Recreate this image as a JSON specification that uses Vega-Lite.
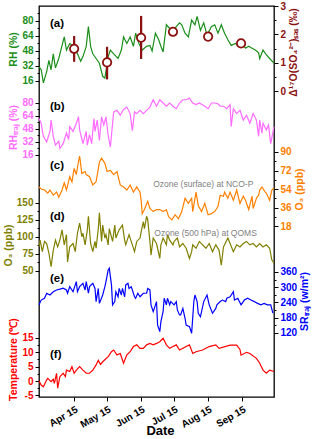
{
 "$schema": "https://vega.github.io/schema/vega-lite/v6.json",
 "width": 235, "height": 391,
 "autosize": "none",
 "padding": {"left": 39, "top": 6, "right": 46, "bottom": 42},
 "config": {
   "font": "Liberation Sans",
   "view": {"stroke": "black", "strokeWidth": 1.3},
   "axis": {"grid": false, "domain": false, "labelFont": "Liberation Sans", "labelFontWeight": "bold", "labelFontSize": 10, "titleFont": "Liberation Sans", "titleFontWeight": "bold", "titleFontSize": 10.5, "tickColor": "black", "tickWidth": 1, "tickSize": 4, "labelPadding": 2, "titlePadding": 3}
 },
 "resolve": {"scale": {"y": "independent"}, "axis": {"y": "independent"}},
 "datasets": {
  "rh": [
   {"t":"2018-03-14","v":31},{"t":"2018-03-16","v":28},{"t":"2018-03-18","v":14},{"t":"2018-03-21","v":26},{"t":"2018-03-23","v":38},{"t":"2018-03-25","v":28},{"t":"2018-03-27","v":45},{"t":"2018-03-29","v":30},{"t":"2018-04-01","v":40},{"t":"2018-04-04","v":54},{"t":"2018-04-06","v":63},{"t":"2018-04-08","v":49},{"t":"2018-04-11","v":56},{"t":"2018-04-15","v":53},{"t":"2018-04-18","v":45},{"t":"2018-04-21","v":37},{"t":"2018-04-23","v":42},{"t":"2018-04-26","v":53},{"t":"2018-04-28","v":74},{"t":"2018-04-30","v":53},{"t":"2018-05-02","v":45},{"t":"2018-05-05","v":40},{"t":"2018-05-08","v":35},{"t":"2018-05-11","v":21},{"t":"2018-05-13","v":19},{"t":"2018-05-16","v":42},{"t":"2018-05-18","v":49},{"t":"2018-05-21","v":45},{"t":"2018-05-25","v":40},{"t":"2018-05-28","v":49},{"t":"2018-05-30","v":63},{"t":"2018-06-02","v":56},{"t":"2018-06-05","v":63},{"t":"2018-06-08","v":53},{"t":"2018-06-10","v":67},{"t":"2018-06-13","v":56},{"t":"2018-06-16","v":49},{"t":"2018-06-20","v":53},{"t":"2018-06-23","v":54},{"t":"2018-06-25","v":48},{"t":"2018-06-28","v":67},{"t":"2018-07-01","v":60},{"t":"2018-07-03","v":53},{"t":"2018-07-05","v":47},{"t":"2018-07-08","v":76},{"t":"2018-07-11","v":72},{"t":"2018-07-14","v":69},{"t":"2018-07-17","v":74},{"t":"2018-07-20","v":78},{"t":"2018-07-22","v":76},{"t":"2018-07-25","v":67},{"t":"2018-07-28","v":63},{"t":"2018-07-31","v":81},{"t":"2018-08-03","v":76},{"t":"2018-08-05","v":85},{"t":"2018-08-08","v":70},{"t":"2018-08-11","v":78},{"t":"2018-08-14","v":65},{"t":"2018-08-18","v":74},{"t":"2018-08-21","v":76},{"t":"2018-08-24","v":67},{"t":"2018-08-27","v":76},{"t":"2018-08-30","v":67},{"t":"2018-09-02","v":60},{"t":"2018-09-05","v":54},{"t":"2018-09-09","v":56},{"t":"2018-09-12","v":53},{"t":"2018-09-15","v":56},{"t":"2018-09-18","v":51},{"t":"2018-09-21","v":53},{"t":"2018-09-24","v":51},{"t":"2018-09-27","v":49},{"t":"2018-09-30","v":46},{"t":"2018-10-01","v":40},{"t":"2018-10-04","v":49},{"t":"2018-10-07","v":44},{"t":"2018-10-10","v":40},{"t":"2018-10-14","v":35}
  ],
  "d17o": [
   {"t":"2018-04-15","v":1.49,"lo":1.03,"hi":1.94},
   {"t":"2018-05-15","v":1.01,"lo":0.41,"hi":1.56},
   {"t":"2018-06-15","v":1.88,"lo":1.13,"hi":2.65},
   {"t":"2018-07-14","v":2.09,"lo":2.09,"hi":2.09},
   {"t":"2018-08-15","v":1.92,"lo":1.92,"hi":1.92},
   {"t":"2018-09-14","v":1.68,"lo":1.68,"hi":1.68}
  ],
  "rht": [
   {"t":"2018-03-14","v":61},{"t":"2018-03-16","v":55},{"t":"2018-03-18","v":39},{"t":"2018-03-21","v":32},{"t":"2018-03-24","v":45},{"t":"2018-03-25","v":59},{"t":"2018-03-27","v":39},{"t":"2018-03-29","v":28},{"t":"2018-04-01","v":33},{"t":"2018-04-02","v":24},{"t":"2018-04-05","v":30},{"t":"2018-04-08","v":43},{"t":"2018-04-10","v":35},{"t":"2018-04-11","v":51},{"t":"2018-04-14","v":45},{"t":"2018-04-17","v":55},{"t":"2018-04-19","v":63},{"t":"2018-04-20","v":47},{"t":"2018-04-23","v":30},{"t":"2018-04-26","v":45},{"t":"2018-04-27","v":28},{"t":"2018-04-29","v":41},{"t":"2018-05-01","v":30},{"t":"2018-05-03","v":61},{"t":"2018-05-04","v":45},{"t":"2018-05-06","v":59},{"t":"2018-05-08","v":34},{"t":"2018-05-10","v":63},{"t":"2018-05-12","v":53},{"t":"2018-05-14","v":63},{"t":"2018-05-16","v":40},{"t":"2018-05-18","v":26},{"t":"2018-05-21","v":69},{"t":"2018-05-24","v":71},{"t":"2018-05-27","v":65},{"t":"2018-05-30","v":72},{"t":"2018-06-02","v":75},{"t":"2018-06-05","v":67},{"t":"2018-06-07","v":46},{"t":"2018-06-09","v":69},{"t":"2018-06-11","v":67},{"t":"2018-06-14","v":71},{"t":"2018-06-17","v":67},{"t":"2018-06-20","v":71},{"t":"2018-06-23","v":75},{"t":"2018-06-26","v":84},{"t":"2018-06-29","v":76},{"t":"2018-07-02","v":84},{"t":"2018-07-05","v":80},{"t":"2018-07-08","v":76},{"t":"2018-07-11","v":80},{"t":"2018-07-14","v":76},{"t":"2018-07-17","v":73},{"t":"2018-07-20","v":80},{"t":"2018-07-23","v":84},{"t":"2018-07-26","v":84},{"t":"2018-07-29","v":86},{"t":"2018-08-01","v":80},{"t":"2018-08-04","v":78},{"t":"2018-08-07","v":80},{"t":"2018-08-12","v":76},{"t":"2018-08-15","v":73},{"t":"2018-08-18","v":80},{"t":"2018-08-21","v":80},{"t":"2018-08-24","v":79},{"t":"2018-08-26","v":76},{"t":"2018-08-29","v":76},{"t":"2018-09-01","v":73},{"t":"2018-09-04","v":78},{"t":"2018-09-05","v":51},{"t":"2018-09-07","v":73},{"t":"2018-09-10","v":67},{"t":"2018-09-13","v":71},{"t":"2018-09-16","v":59},{"t":"2018-09-19","v":65},{"t":"2018-09-22","v":55},{"t":"2018-09-25","v":67},{"t":"2018-09-28","v":59},{"t":"2018-09-30","v":39},{"t":"2018-10-01","v":59},{"t":"2018-10-03","v":43},{"t":"2018-10-04","v":55},{"t":"2018-10-07","v":47},{"t":"2018-10-09","v":53},{"t":"2018-10-11","v":30},{"t":"2018-10-14","v":51}
  ],
  "o3s": [
   {"t":"2018-03-14","v":56},{"t":"2018-03-16","v":54},{"t":"2018-03-19","v":53},{"t":"2018-03-22","v":50},{"t":"2018-03-24","v":53},{"t":"2018-03-27","v":48},{"t":"2018-03-30","v":51},{"t":"2018-04-01","v":46},{"t":"2018-04-04","v":53},{"t":"2018-04-06","v":60},{"t":"2018-04-08","v":53},{"t":"2018-04-11","v":66},{"t":"2018-04-13","v":61},{"t":"2018-04-15","v":74},{"t":"2018-04-17","v":68},{"t":"2018-04-19","v":81},{"t":"2018-04-20","v":86},{"t":"2018-04-22","v":69},{"t":"2018-04-25","v":71},{"t":"2018-04-26","v":68},{"t":"2018-04-29","v":66},{"t":"2018-05-02","v":58},{"t":"2018-05-05","v":61},{"t":"2018-05-08","v":80},{"t":"2018-05-10","v":84},{"t":"2018-05-13","v":79},{"t":"2018-05-15","v":71},{"t":"2018-05-18","v":72},{"t":"2018-05-21","v":68},{"t":"2018-05-24","v":71},{"t":"2018-05-27","v":58},{"t":"2018-05-30","v":56},{"t":"2018-06-02","v":53},{"t":"2018-06-05","v":58},{"t":"2018-06-08","v":51},{"t":"2018-06-11","v":56},{"t":"2018-06-14","v":51},{"t":"2018-06-15","v":43},{"t":"2018-06-16","v":30},{"t":"2018-06-18","v":34},{"t":"2018-06-21","v":42},{"t":"2018-06-23","v":35},{"t":"2018-06-26","v":32},{"t":"2018-06-29","v":34},{"t":"2018-07-02","v":34},{"t":"2018-07-05","v":32},{"t":"2018-07-08","v":34},{"t":"2018-07-10","v":27},{"t":"2018-07-13","v":24},{"t":"2018-07-16","v":29},{"t":"2018-07-19","v":25},{"t":"2018-07-22","v":32},{"t":"2018-07-25","v":45},{"t":"2018-07-28","v":40},{"t":"2018-07-31","v":45},{"t":"2018-08-01","v":32},{"t":"2018-08-04","v":51},{"t":"2018-08-06","v":38},{"t":"2018-08-09","v":32},{"t":"2018-08-12","v":40},{"t":"2018-08-15","v":29},{"t":"2018-08-18","v":30},{"t":"2018-08-21","v":32},{"t":"2018-08-24","v":37},{"t":"2018-08-26","v":48},{"t":"2018-08-29","v":47},{"t":"2018-08-30","v":51},{"t":"2018-09-02","v":45},{"t":"2018-09-04","v":51},{"t":"2018-09-07","v":43},{"t":"2018-09-10","v":53},{"t":"2018-09-13","v":40},{"t":"2018-09-16","v":47},{"t":"2018-09-18","v":43},{"t":"2018-09-21","v":34},{"t":"2018-09-24","v":47},{"t":"2018-09-25","v":35},{"t":"2018-09-28","v":45},{"t":"2018-09-30","v":48},{"t":"2018-10-01","v":53},{"t":"2018-10-03","v":56},{"t":"2018-10-06","v":51},{"t":"2018-10-07","v":50},{"t":"2018-10-10","v":43},{"t":"2018-10-12","v":53},{"t":"2018-10-14","v":55}
  ],
  "o3m": [
   {"t":"2018-03-14","v":85},{"t":"2018-03-15","v":95},{"t":"2018-03-17","v":78},{"t":"2018-03-19","v":93},{"t":"2018-03-21","v":90},{"t":"2018-03-23","v":76},{"t":"2018-03-25","v":56},{"t":"2018-03-27","v":80},{"t":"2018-03-29","v":95},{"t":"2018-03-31","v":85},{"t":"2018-04-02","v":95},{"t":"2018-04-04","v":110},{"t":"2018-04-06","v":88},{"t":"2018-04-08","v":103},{"t":"2018-04-09","v":63},{"t":"2018-04-11","v":85},{"t":"2018-04-14","v":90},{"t":"2018-04-16","v":78},{"t":"2018-04-18","v":105},{"t":"2018-04-20","v":120},{"t":"2018-04-22","v":100},{"t":"2018-04-23","v":105},{"t":"2018-04-25","v":88},{"t":"2018-04-27","v":110},{"t":"2018-04-28","v":130},{"t":"2018-04-30","v":90},{"t":"2018-05-02","v":78},{"t":"2018-05-04","v":93},{"t":"2018-05-05","v":83},{"t":"2018-05-07","v":112},{"t":"2018-05-08","v":135},{"t":"2018-05-10","v":93},{"t":"2018-05-11","v":117},{"t":"2018-05-13","v":98},{"t":"2018-05-14","v":103},{"t":"2018-05-16","v":88},{"t":"2018-05-17","v":112},{"t":"2018-05-20","v":93},{"t":"2018-05-22","v":117},{"t":"2018-05-23","v":98},{"t":"2018-05-26","v":110},{"t":"2018-05-29","v":117},{"t":"2018-05-31","v":95},{"t":"2018-06-01","v":88},{"t":"2018-06-04","v":103},{"t":"2018-06-07","v":88},{"t":"2018-06-09","v":78},{"t":"2018-06-11","v":93},{"t":"2018-06-14","v":98},{"t":"2018-06-15","v":107},{"t":"2018-06-17","v":122},{"t":"2018-06-18","v":112},{"t":"2018-06-20","v":130},{"t":"2018-06-21","v":125},{"t":"2018-06-23","v":93},{"t":"2018-06-24","v":73},{"t":"2018-06-26","v":98},{"t":"2018-06-29","v":90},{"t":"2018-06-30","v":83},{"t":"2018-07-02","v":68},{"t":"2018-07-03","v":88},{"t":"2018-07-05","v":98},{"t":"2018-07-08","v":88},{"t":"2018-07-09","v":103},{"t":"2018-07-11","v":95},{"t":"2018-07-14","v":88},{"t":"2018-07-15","v":93},{"t":"2018-07-18","v":98},{"t":"2018-07-20","v":85},{"t":"2018-07-23","v":90},{"t":"2018-07-26","v":83},{"t":"2018-07-29","v":68},{"t":"2018-07-31","v":78},{"t":"2018-08-01","v":88},{"t":"2018-08-04","v":83},{"t":"2018-08-07","v":93},{"t":"2018-08-10","v":88},{"t":"2018-08-13","v":83},{"t":"2018-08-16","v":90},{"t":"2018-08-19","v":78},{"t":"2018-08-22","v":88},{"t":"2018-08-25","v":80},{"t":"2018-08-27","v":58},{"t":"2018-08-29","v":85},{"t":"2018-09-02","v":98},{"t":"2018-09-04","v":90},{"t":"2018-09-07","v":78},{"t":"2018-09-10","v":88},{"t":"2018-09-13","v":85},{"t":"2018-09-16","v":90},{"t":"2018-09-19","v":93},{"t":"2018-09-22","v":88},{"t":"2018-09-25","v":90},{"t":"2018-09-28","v":85},{"t":"2018-10-01","v":90},{"t":"2018-10-04","v":85},{"t":"2018-10-07","v":88},{"t":"2018-10-10","v":83},{"t":"2018-10-12","v":66},{"t":"2018-10-14","v":61}
  ],
  "sr": [
   {"t":"2018-03-14","v":230},{"t":"2018-03-16","v":249},{"t":"2018-03-19","v":256},{"t":"2018-03-21","v":276},{"t":"2018-03-24","v":269},{"t":"2018-03-27","v":282},{"t":"2018-03-30","v":289},{"t":"2018-04-02","v":292},{"t":"2018-04-05","v":296},{"t":"2018-04-08","v":289},{"t":"2018-04-09","v":276},{"t":"2018-04-11","v":302},{"t":"2018-04-14","v":282},{"t":"2018-04-17","v":322},{"t":"2018-04-18","v":282},{"t":"2018-04-20","v":302},{"t":"2018-04-23","v":315},{"t":"2018-04-25","v":289},{"t":"2018-04-26","v":322},{"t":"2018-04-28","v":276},{"t":"2018-04-29","v":302},{"t":"2018-05-02","v":315},{"t":"2018-05-04","v":295},{"t":"2018-05-05","v":243},{"t":"2018-05-07","v":295},{"t":"2018-05-08","v":236},{"t":"2018-05-11","v":269},{"t":"2018-05-13","v":302},{"t":"2018-05-14","v":322},{"t":"2018-05-16","v":368},{"t":"2018-05-17","v":375},{"t":"2018-05-19","v":309},{"t":"2018-05-20","v":230},{"t":"2018-05-22","v":243},{"t":"2018-05-23","v":282},{"t":"2018-05-25","v":262},{"t":"2018-05-26","v":295},{"t":"2018-05-28","v":269},{"t":"2018-05-29","v":295},{"t":"2018-05-31","v":262},{"t":"2018-06-01","v":309},{"t":"2018-06-03","v":315},{"t":"2018-06-04","v":295},{"t":"2018-06-06","v":302},{"t":"2018-06-07","v":289},{"t":"2018-06-09","v":262},{"t":"2018-06-10","v":256},{"t":"2018-06-12","v":276},{"t":"2018-06-14","v":262},{"t":"2018-06-17","v":276},{"t":"2018-06-20","v":276},{"t":"2018-06-21","v":295},{"t":"2018-06-23","v":289},{"t":"2018-06-24","v":230},{"t":"2018-06-26","v":203},{"t":"2018-06-27","v":216},{"t":"2018-06-29","v":243},{"t":"2018-06-30","v":150},{"t":"2018-07-02","v":124},{"t":"2018-07-03","v":164},{"t":"2018-07-05","v":203},{"t":"2018-07-06","v":256},{"t":"2018-07-08","v":230},{"t":"2018-07-09","v":256},{"t":"2018-07-11","v":230},{"t":"2018-07-12","v":243},{"t":"2018-07-15","v":230},{"t":"2018-07-17","v":243},{"t":"2018-07-18","v":210},{"t":"2018-07-20","v":190},{"t":"2018-07-21","v":190},{"t":"2018-07-23","v":216},{"t":"2018-07-25","v":177},{"t":"2018-07-26","v":150},{"t":"2018-07-29","v":144},{"t":"2018-07-31","v":118},{"t":"2018-08-02","v":243},{"t":"2018-08-03","v":269},{"t":"2018-08-05","v":243},{"t":"2018-08-06","v":197},{"t":"2018-08-08","v":183},{"t":"2018-08-11","v":243},{"t":"2018-08-14","v":269},{"t":"2018-08-16","v":230},{"t":"2018-08-19","v":197},{"t":"2018-08-22","v":216},{"t":"2018-08-23","v":230},{"t":"2018-08-26","v":243},{"t":"2018-08-28","v":249},{"t":"2018-08-31","v":243},{"t":"2018-09-01","v":256},{"t":"2018-09-04","v":262},{"t":"2018-09-07","v":282},{"t":"2018-09-08","v":249},{"t":"2018-09-11","v":256},{"t":"2018-09-14","v":230},{"t":"2018-09-17","v":249},{"t":"2018-09-20","v":256},{"t":"2018-09-23","v":249},{"t":"2018-09-26","v":243},{"t":"2018-09-29","v":236},{"t":"2018-10-02","v":230},{"t":"2018-10-05","v":236},{"t":"2018-10-08","v":230},{"t":"2018-10-11","v":230},{"t":"2018-10-13","v":197}
  ],
  "temp": [
   {"t":"2018-03-14","v":0},{"t":"2018-03-16","v":-1.4},{"t":"2018-03-18","v":-2},{"t":"2018-03-21","v":0.4},{"t":"2018-03-22","v":0.9},{"t":"2018-03-25","v":-0.2},{"t":"2018-03-27","v":0.6},{"t":"2018-03-28","v":-0.8},{"t":"2018-03-30","v":2.7},{"t":"2018-03-31","v":-2.5},{"t":"2018-04-02","v":1.5},{"t":"2018-04-05","v":2.7},{"t":"2018-04-07","v":1.5},{"t":"2018-04-08","v":3.8},{"t":"2018-04-11","v":3.3},{"t":"2018-04-13","v":5},{"t":"2018-04-15","v":2.7},{"t":"2018-04-17","v":3.8},{"t":"2018-04-20","v":5},{"t":"2018-04-23","v":3.8},{"t":"2018-04-26","v":2.7},{"t":"2018-04-29","v":2.7},{"t":"2018-05-02","v":3.8},{"t":"2018-05-05","v":5.6},{"t":"2018-05-07","v":7.2},{"t":"2018-05-09","v":5.8},{"t":"2018-05-11","v":6.7},{"t":"2018-05-16","v":8.5},{"t":"2018-05-19","v":10.2},{"t":"2018-05-21","v":10.8},{"t":"2018-05-24","v":9.1},{"t":"2018-05-27","v":9.6},{"t":"2018-05-30","v":6.2},{"t":"2018-06-02","v":9.1},{"t":"2018-06-05","v":10.2},{"t":"2018-06-08","v":12},{"t":"2018-06-11","v":12.6},{"t":"2018-06-14","v":11.4},{"t":"2018-06-17","v":11.4},{"t":"2018-06-20","v":12.6},{"t":"2018-06-23","v":13.1},{"t":"2018-06-26","v":12.6},{"t":"2018-06-29","v":13.1},{"t":"2018-07-02","v":13.7},{"t":"2018-07-05","v":14.9},{"t":"2018-07-08","v":12.6},{"t":"2018-07-11","v":11.4},{"t":"2018-07-14","v":12},{"t":"2018-07-17","v":12.6},{"t":"2018-07-20","v":10.8},{"t":"2018-07-23","v":11.4},{"t":"2018-07-26","v":12},{"t":"2018-07-29","v":12.6},{"t":"2018-08-01","v":9.6},{"t":"2018-08-04","v":10.2},{"t":"2018-08-10","v":10.8},{"t":"2018-08-16","v":12},{"t":"2018-08-22","v":12.6},{"t":"2018-08-25","v":11.4},{"t":"2018-09-04","v":12.5},{"t":"2018-09-10","v":12.5},{"t":"2018-09-13","v":11},{"t":"2018-09-14","v":9},{"t":"2018-09-19","v":10},{"t":"2018-09-22","v":9.6},{"t":"2018-09-28","v":7.9},{"t":"2018-10-01","v":6.2},{"t":"2018-10-04","v":3.8},{"t":"2018-10-07","v":2.7},{"t":"2018-10-10","v":3.8},{"t":"2018-10-14","v":3.3}
  ]
 },
 "layer": [
  {"data": {"name": "rh"}, "mark": {"type": "line", "color": "#1a8f1a", "strokeWidth": 1.2},
   "encoding": {
    "x": {"field": "t", "type": "temporal", "scale": {"type": "utc", "domain": [{"year": 2018, "month": 3, "date": 14, "utc": true}, {"year": 2018, "month": 10, "date": 14, "utc": true}]}},
    "y": {"field": "v", "type": "quantitative", "scale": {"domain": [-321.1, 96], "nice": false, "zero": false},
     "axis": {"orient": "left", "title": "RH (%)", "titleColor": "#1a8f1a", "labelColor": "#1a8f1a", "values": [16,32,48,64,80], "titleY": 43}}}},
  {"data": {"values": []}, "mark": "point",
   "encoding": {
    "x": {"field": "t", "type": "temporal"},
    "y": {"field": "v", "type": "quantitative", "scale": {"domain": [-321.1, 96], "nice": false, "zero": false},
     "axis": {"orient": "left", "title": null, "labels": false, "tickSize": 2, "values": [24,40,56,72,88]}}}},
  {"data": {"values": [{}]}, "mark": {"type": "text", "text": "(a)", "align": "left", "baseline": "middle", "fontWeight": "bold", "fontSize": 11.5, "color": "black"},
   "encoding": {
    "x": {"datum": {"year": 2018, "month": 3, "date": 24, "utc": true}, "type": "temporal"},
    "y": {"datum": 76.8, "type": "quantitative", "scale": {"domain": [-321.1, 96], "nice": false, "zero": false}, "axis": null}}},

  {"data": {"name": "d17o"}, "mark": {"type": "rule", "color": "#8b1111", "strokeWidth": 2.2},
   "encoding": {
    "x": {"field": "t", "type": "temporal"},
    "y": {"field": "lo", "type": "quantitative", "scale": {"domain": [-10.8, 3], "nice": false, "zero": false}, "axis": null},
    "y2": {"field": "hi"}}},
  {"data": {"name": "d17o"}, "mark": {"type": "point", "shape": "circle", "filled": true, "fill": "white", "stroke": "#8b1111", "strokeWidth": 1.8, "size": 70, "opacity": 1},
   "encoding": {
    "x": {"field": "t", "type": "temporal"},
    "y": {"field": "v", "type": "quantitative", "scale": {"domain": [-10.8, 3], "nice": false, "zero": false},
     "axis": {"orient": "right", "title": "Δ¹⁷O(SO₄²⁻)ₛₐₛ (‰)", "titleColor": "#8b1111", "labelColor": "#8b1111", "values": [0,1,2,3], "titleY": 46, "titleAngle": 270, "titleBaseline": "top"}}}},
  {"data": {"values": []}, "mark": "point",
   "encoding": {
    "x": {"field": "t", "type": "temporal"},
    "y": {"field": "v", "type": "quantitative", "scale": {"domain": [-10.8, 3], "nice": false, "zero": false},
     "axis": {"orient": "right", "title": null, "labels": false, "tickSize": 2, "values": [0.5,1.5,2.5]}}}},

  {"data": {"name": "rht"}, "mark": {"type": "line", "color": "#ff6cff", "strokeWidth": 1.2},
   "encoding": {
    "x": {"field": "t", "type": "temporal"},
    "y": {"field": "v", "type": "quantitative", "scale": {"domain": [-281.85, 199.38], "nice": false, "zero": false},
     "axis": {"orient": "left", "title": "RHₜᵣₐⱼ (%)", "titleColor": "#ff6cff", "labelColor": "#ff6cff", "values": [16,32,48,64,80], "titleY": 121}}}},
  {"data": {"values": []}, "mark": "point",
   "encoding": {
    "x": {"field": "t", "type": "temporal"},
    "y": {"field": "v", "type": "quantitative", "scale": {"domain": [-281.85, 199.38], "nice": false, "zero": false},
     "axis": {"orient": "left", "title": null, "labels": false, "tickSize": 2, "values": [24,40,56,72]}}}},
  {"data": {"values": [{}]}, "mark": {"type": "text", "text": "(b)", "align": "left", "baseline": "middle", "fontWeight": "bold", "fontSize": 11.5, "color": "black"},
   "encoding": {
    "x": {"datum": {"year": 2018, "month": 3, "date": 24, "utc": true}, "type": "temporal"},
    "y": {"datum": 75.1, "type": "quantitative", "scale": {"domain": [-281.85, 199.38], "nice": false, "zero": false}, "axis": null}}},

  {"data": {"name": "o3s"}, "mark": {"type": "line", "color": "#ff8000", "strokeWidth": 1.2},
   "encoding": {
    "x": {"field": "t", "type": "temporal"},
    "y": {"field": "v", "type": "quantitative", "scale": {"domain": [-148.33, 232.02], "nice": false, "zero": false},
     "axis": {"orient": "right", "title": "O₃ (ppb)", "titleColor": "#ff8000", "labelColor": "#ff8000", "values": [18,36,54,72,90], "titleY": 183, "titleAngle": 270, "titleBaseline": "top"}}}},
  {"data": {"values": []}, "mark": "point",
   "encoding": {
    "x": {"field": "t", "type": "temporal"},
    "y": {"field": "v", "type": "quantitative", "scale": {"domain": [-148.33, 232.02], "nice": false, "zero": false},
     "axis": {"orient": "right", "title": null, "labels": false, "tickSize": 2, "values": [27,45,63,81]}}}},
  {"data": {"values": [{}]}, "mark": {"type": "text", "text": "(c)", "align": "left", "baseline": "middle", "fontWeight": "bold", "fontSize": 11.5, "color": "black"},
   "encoding": {
    "x": {"datum": {"year": 2018, "month": 3, "date": 24, "utc": true}, "type": "temporal"},
    "y": {"datum": 76.4, "type": "quantitative", "scale": {"domain": [-148.33, 232.02], "nice": false, "zero": false}, "axis": null}}},
  {"data": {"values": [{}]}, "mark": {"type": "text", "text": "Ozone (surface) at NCO-P", "align": "left", "baseline": "middle", "fontSize": 8.5, "color": "#808080"},
   "encoding": {
    "x": {"datum": {"year": 2018, "month": 6, "date": 26, "utc": true}, "type": "temporal"},
    "y": {"datum": 58.9, "type": "quantitative", "scale": {"domain": [-148.33, 232.02], "nice": false, "zero": false}, "axis": null}}},

  {"data": {"name": "o3m"}, "mark": {"type": "line", "color": "#808000", "strokeWidth": 1.2},
   "encoding": {
    "x": {"field": "t", "type": "temporal"},
    "y": {"field": "v", "type": "quantitative", "scale": {"domain": [-135.74, 439.26], "nice": false, "zero": false},
     "axis": {"orient": "left", "title": "O₃ (ppb)", "titleColor": "#808000", "labelColor": "#808000", "values": [50,75,100,125,150], "titleY": 239}}}},
  {"data": {"values": []}, "mark": "point",
   "encoding": {
    "x": {"field": "t", "type": "temporal"},
    "y": {"field": "v", "type": "quantitative", "scale": {"domain": [-135.74, 439.26], "nice": false, "zero": false},
     "axis": {"orient": "left", "title": null, "labels": false, "tickSize": 2, "values": [62.5,87.5,112.5,137.5]}}}},
  {"data": {"values": [{}]}, "mark": {"type": "text", "text": "(d)", "align": "left", "baseline": "middle", "fontWeight": "bold", "fontSize": 11.5, "color": "black"},
   "encoding": {
    "x": {"datum": {"year": 2018, "month": 3, "date": 24, "utc": true}, "type": "temporal"},
    "y": {"datum": 129, "type": "quantitative", "scale": {"domain": [-135.74, 439.26], "nice": false, "zero": false}, "axis": null}}},
  {"data": {"values": [{}]}, "mark": {"type": "text", "text": "Ozone (500 hPa) at QOMS", "align": "left", "baseline": "middle", "fontSize": 8.5, "color": "#808080"},
   "encoding": {
    "x": {"datum": {"year": 2018, "month": 6, "date": 27, "utc": true}, "type": "temporal"},
    "y": {"datum": 105.4, "type": "quantitative", "scale": {"domain": [-135.74, 439.26], "nice": false, "zero": false}, "axis": null}}},

  {"data": {"name": "sr"}, "mark": {"type": "line", "color": "#0000ff", "strokeWidth": 1.2},
   "encoding": {
    "x": {"field": "t", "type": "temporal"},
    "y": {"field": "v", "type": "quantitative", "scale": {"domain": [-134.3, 1411.8], "nice": false, "zero": false},
     "axis": {"orient": "right", "title": "SRₜᵣₐⱼ (w/m²)", "titleColor": "#0000ff", "labelColor": "#0000ff", "values": [120,180,240,300,360], "titleY": 295, "titleAngle": 270, "titleBaseline": "top"}}}},
  {"data": {"values": []}, "mark": "point",
   "encoding": {
    "x": {"field": "t", "type": "temporal"},
    "y": {"field": "v", "type": "quantitative", "scale": {"domain": [-134.3, 1411.8], "nice": false, "zero": false},
     "axis": {"orient": "right", "title": null, "labels": false, "tickSize": 2, "values": [150,210,270,330]}}}},
  {"data": {"values": [{}]}, "mark": {"type": "text", "text": "(e)", "align": "left", "baseline": "middle", "fontWeight": "bold", "fontSize": 11.5, "color": "black"},
   "encoding": {
    "x": {"datum": {"year": 2018, "month": 3, "date": 24, "utc": true}, "type": "temporal"},
    "y": {"datum": 332.3, "type": "quantitative", "scale": {"domain": [-134.3, 1411.8], "nice": false, "zero": false}, "axis": null}}},

  {"data": {"name": "temp"}, "mark": {"type": "line", "color": "#ff0000", "strokeWidth": 1.2},
   "encoding": {
    "x": {"field": "t", "type": "temporal",
     "axis": {"orient": "bottom", "title": "Date", "titleFontSize": 13, "titleColor": "black", "labelColor": "black", "values": [{"year": 2018, "month": 4, "date": 15, "utc": true}, {"year": 2018, "month": 5, "date": 15, "utc": true}, {"year": 2018, "month": 6, "date": 15, "utc": true}, {"year": 2018, "month": 7, "date": 15, "utc": true}, {"year": 2018, "month": 8, "date": 15, "utc": true}, {"year": 2018, "month": 9, "date": 15, "utc": true}], "format": "%b %d", "labelAngle": -30, "labelAlign": "right", "labelBaseline": "top", "labelPadding": 3, "labelOverlap": false, "labelFlush": false, "titleY": 27, "titleX": 121, "titleBaseline": "top"}},
    "y": {"field": "v", "type": "quantitative", "scale": {"domain": [-5.57, 130.66], "nice": false, "zero": false},
     "axis": {"orient": "left", "title": "Temperature (℃)", "titleColor": "#ff0000", "labelColor": "#ff0000", "values": [-5,0,5,10,15], "labelExpr": "'' + datum.value", "titleY": 353}}}},
  {"data": {"values": []}, "mark": "point",
   "encoding": {
    "x": {"field": "t", "type": "temporal"},
    "y": {"field": "v", "type": "quantitative", "scale": {"domain": [-5.57, 130.66], "nice": false, "zero": false},
     "axis": {"orient": "left", "title": null, "labels": false, "tickSize": 2, "values": [-2.5,2.5,7.5,12.5]}}}},
  {"data": {"values": [{}]}, "mark": {"type": "text", "text": "(f)", "align": "left", "baseline": "middle", "fontWeight": "bold", "fontSize": 11.5, "color": "black"},
   "encoding": {
    "x": {"datum": {"year": 2018, "month": 3, "date": 24, "utc": true}, "type": "temporal"},
    "y": {"datum": 9.06, "type": "quantitative", "scale": {"domain": [-5.57, 130.66], "nice": false, "zero": false}, "axis": null}}}
 ]
}
